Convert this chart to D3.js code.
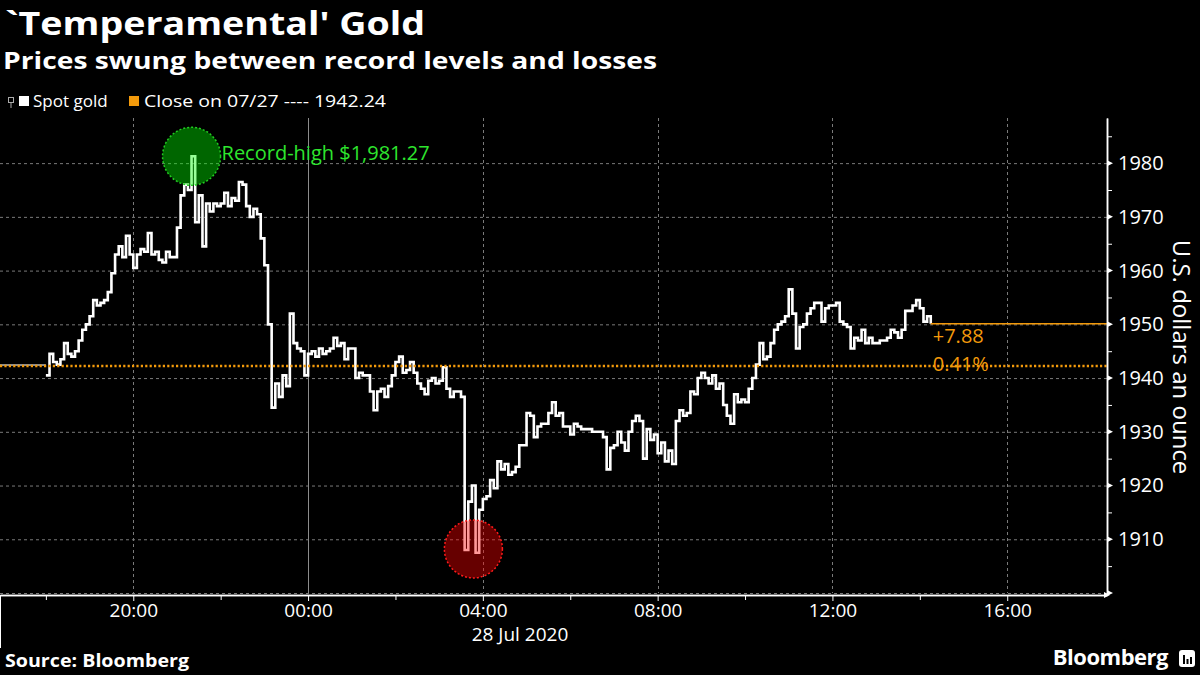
<!DOCTYPE html>
<html>
<head>
<meta charset="utf-8">
<script src="https://cdn.jsdelivr.net/npm/d3@7"></script>
<style>
  html, body { margin: 0; padding: 0; background: #000; }
  svg { display: block; }
</style>
</head>
<body>
<div id="chart"></div>
<script>
// spot gold, one price every 5 minutes from 27 Jul 18:00
const startTime = new Date(2020, 6, 27, 18, 0);
const stepMinutes = 5;
const spotGold = [
  1940.5, 1944.5, 1943, 1942.5, 1943.5, 1946.5, 1944.5, 1944, 1945, 1947, 1949, 1950,          // 18h
  1951.5, 1954.5, 1953.5, 1954, 1954.5, 1956, 1959.5, 1963, 1964.5, 1962.5, 1966.5, 1963,      // 19h
  1960.5, 1963, 1964, 1963.5, 1967, 1963, 1963.5, 1962, 1961.5, 1963.5, 1962.5, 1962.5,        // 20h
  1968, 1974, 1976, 1975, 1981.27, 1969, 1974, 1964.5, 1972.5, 1971, 1972.5, 1972,             // 21h
  1972.5, 1974.5, 1972, 1973.5, 1973, 1976.5, 1976, 1972, 1970, 1971.5, 1970.5, 1966,          // 22h
  1961, 1950, 1934.5, 1939, 1936.5, 1940.5, 1938.5, 1952, 1946.5, 1945.5, 1945, 1940.5,        // 23h
  1944.5, 1945, 1944, 1945.5, 1944.5, 1945, 1945.5, 1947.5, 1946, 1946.5, 1943.5, 1945.5,      // 00h
  1945.5, 1940, 1941, 1940.5, 1940.5, 1937.5, 1934, 1937.5, 1938, 1936.5, 1938.5, 1940.5,      // 01h
  1943, 1944, 1941, 1941.5, 1943, 1941, 1939, 1938, 1937, 1939.5, 1940, 1939,                  // 02h
  1939.5, 1942, 1938, 1936.5, 1937.5, 1937.5, 1936.5, 1908, 1917, 1920, 1907.5, 1915.5,        // 03h
  1917.5, 1918, 1921, 1919.5, 1924.5, 1923, 1924, 1922, 1922.5, 1923.5, 1927.5, 1927.5,        // 04h
  1933.5, 1933, 1929, 1931, 1931.5, 1931.5, 1933.5, 1935.5, 1933, 1933.5, 1931, 1931,          // 05h
  1929.5, 1931.5, 1931, 1930.5, 1930.5, 1930.5, 1930, 1930, 1930, 1929, 1923, 1927,            // 06h
  1927.5, 1930, 1928, 1926.5, 1930, 1932, 1933, 1932, 1925, 1930.5, 1928.5, 1929.5,            // 07h
  1926, 1928, 1924.5, 1926.5, 1924, 1932, 1934, 1933, 1933.5, 1937.5, 1937, 1940,              // 08h
  1941, 1940, 1939, 1940.5, 1938, 1939, 1935, 1933, 1931.5, 1937, 1935.5, 1936,                // 09h
  1935.5, 1938, 1940, 1942.5, 1946.5, 1943.5, 1944, 1946.5, 1949, 1950, 1950.5, 1951.5,        // 10h
  1956.5, 1952, 1945.5, 1949.5, 1950, 1952, 1953, 1954, 1954, 1950.5, 1953, 1953.5,            // 11h
  1953.5, 1954, 1950.5, 1950, 1949.5, 1945.5, 1947.5, 1947, 1949, 1946.5, 1947.5, 1946.5,      // 12h
  1946.5, 1947, 1947, 1947.5, 1949, 1948.5, 1947.5, 1949, 1952.5, 1952.5, 1953.5, 1954.5,      // 13h
  1953, 1950.5, 1951.5, 1950.12                                                                // 14h
];
const prevClose = 1942.24;
const lastPrice = 1950.12;
const changeLabels = ["+7.88", "0.41%"];
const highMark = [new Date(2020, 6, 27, 21, 20), 1981.27];
const lowMark = [new Date(2020, 6, 28, 3, 47), 1908.2];
const yTicks = [1910, 1920, 1930, 1940, 1950, 1960, 1970, 1980];
const yMinorTicks = [1905, 1915, 1925, 1935, 1945, 1955, 1965, 1975, 1985];
const yGrid = [1900, 1910, 1920, 1930, 1940, 1950, 1960, 1970, 1980];

const totalWidth = 1200, totalHeight = 675;
const plot = { left: 0, right: 1107, top: 118, bottom: 593 };
const orange = "#f39a0b";
const labelFont = "'Open Sans', 'Noto Sans', sans-serif";

const svg = d3.select("#chart")
  .append("svg")
  .attr("width", totalWidth)
  .attr("height", totalHeight)
  .style("background", "#000");

const x = d3.scaleTime()
  .domain([new Date(2020, 6, 27, 16, 57), new Date(2020, 6, 28, 18, 17)])
  .range([plot.left, plot.right]);

const y = d3.scaleLinear()
  .domain([1900, 1988.4])
  .range([plot.bottom, plot.top]);

const series = spotGold.map((p, i) => ({ t: d3.timeMinute.offset(startTime, i * stepMinutes), p: p }));

const majorHours = d3.timeHour.every(4).range(x.domain()[0], x.domain()[1]).filter(d => x(d) < plot.right - 20);
const minorHours = d3.timeHour.every(2).range(x.domain()[0], x.domain()[1])
  .filter(d => d.getHours() % 4 != 0 && x(d) < plot.right - 20);

// grid
svg.append("g")
  .selectAll("line")
  .data(yGrid)
  .enter()
  .append("line")
  .attr("x1", plot.left)
  .attr("x2", plot.right)
  .attr("y1", d => y(d) + 0.5)
  .attr("y2", d => y(d) + 0.5)
  .attr("stroke", "#7a7a7a")
  .attr("stroke-width", 1)
  .attr("stroke-dasharray", "3,3");

svg.append("g")
  .selectAll("line")
  .data(majorHours)
  .enter()
  .append("line")
  .attr("x1", d => Math.round(x(d)) + 0.5)
  .attr("x2", d => Math.round(x(d)) + 0.5)
  .attr("y1", plot.top)
  .attr("y2", plot.bottom)
  .attr("stroke", d => d.getHours() == 0 ? "#8c8c8c" : "#7a7a7a")
  .attr("stroke-width", 1)
  .attr("stroke-dasharray", d => d.getHours() == 0 ? null : "3,3");

// flat line before the open
svg.append("line")
  .attr("x1", plot.left)
  .attr("x2", x(startTime))
  .attr("y1", y(prevClose) - 1)
  .attr("y2", y(prevClose) - 1)
  .attr("stroke", "#bbbbbb")
  .attr("stroke-width", 1.5);

// price line
const line = d3.line()
  .x(d => x(d.t))
  .y(d => y(d.p))
  .curve(d3.curveStepAfter);

svg.append("path")
  .datum(series)
  .attr("fill", "none")
  .attr("stroke", "#fff")
  .attr("stroke-width", 2.6)
  .attr("d", line);

// previous close and last price
svg.append("line")
  .attr("x1", plot.left)
  .attr("x2", plot.right)
  .attr("y1", y(prevClose))
  .attr("y2", y(prevClose))
  .attr("stroke", orange)
  .attr("stroke-width", 2.4)
  .attr("stroke-dasharray", "2.2,2.2");

const lastPoint = series[series.length - 1];
svg.append("line")
  .attr("x1", x(lastPoint.t))
  .attr("x2", plot.right)
  .attr("y1", y(lastPrice))
  .attr("y2", y(lastPrice))
  .attr("stroke", orange)
  .attr("stroke-width", 1.5);

svg.selectAll(".chg")
  .data(changeLabels)
  .enter()
  .append("text")
  .attr("class", "chg")
  .attr("x", x(lastPoint.t) + 2)
  .attr("y", (d, i) => y(lastPrice) + 19 + i * 28)
  .attr("fill", orange)
  .attr("font-family", labelFont)
  .attr("font-size", "20px")
  .text(d => d);

// highlight circles
svg.append("circle")
  .attr("cx", x(highMark[0]))
  .attr("cy", y(highMark[1]))
  .attr("r", 29)
  .attr("fill", "#00ff00")
  .attr("fill-opacity", 0.4)
  .attr("stroke", "#22cc22")
  .attr("stroke-width", 1.5)
  .attr("stroke-dasharray", "2,2");

svg.append("text")
  .attr("x", x(highMark[0]) + 30)
  .attr("y", y(highMark[1]) + 4)
  .attr("fill", "#2ee62e")
  .attr("font-family", labelFont)
  .attr("font-size", "20px")
  .text("Record-high $1,981.27");

svg.append("circle")
  .attr("cx", x(lowMark[0]))
  .attr("cy", y(lowMark[1]))
  .attr("r", 29)
  .attr("fill", "#ff0000")
  .attr("fill-opacity", 0.4)
  .attr("stroke", "#ff1a1a")
  .attr("stroke-width", 1.5)
  .attr("stroke-dasharray", "2,2");

// x axis
const xAxis = svg.append("g")
  .attr("transform", `translate(0, ${plot.bottom + 2})`)
  .call(d3.axisBottom(x).tickValues(majorHours).tickFormat(d3.timeFormat("%H:%M")).tickSize(6).tickSizeOuter(0).tickPadding(3));
svg.append("g")
  .attr("transform", `translate(0, ${plot.bottom + 2})`)
  .call(d3.axisBottom(x).tickValues(minorHours).tickFormat("").tickSize(5).tickSizeOuter(0));

svg.append("line")
  .attr("x1", 0.5).attr("x2", 0.5)
  .attr("y1", plot.bottom + 2).attr("y2", 648)
  .attr("stroke", "#fff");

svg.append("path")
  .attr("d", `M${plot.right - 3},${plot.bottom - 1}L${plot.right + 3},${plot.bottom + 2}L${plot.right - 3},${plot.bottom + 5}Z`)
  .attr("fill", "#fff");

svg.append("text")
  .attr("x", 520)
  .attr("y", 641)
  .attr("text-anchor", "middle")
  .attr("fill", "#fff")
  .attr("font-family", labelFont)
  .attr("font-size", "19px")
  .text("28 Jul 2020");

// y axis
const yAxis = svg.append("g")
  .attr("transform", `translate(${plot.right}, 0)`)
  .call(d3.axisRight(y).tickValues(yTicks).tickFormat(d3.format("d")).tickSize(0).tickSizeOuter(0).tickPadding(11));
svg.append("g")
  .attr("transform", `translate(${plot.right}, 0)`)
  .call(d3.axisRight(y).tickValues(yMinorTicks).tickFormat("").tickSize(5).tickSizeOuter(0));

svg.append("g")
  .selectAll("path")
  .data([1900].concat(yTicks))
  .enter()
  .append("path")
  .attr("d", d => `M${plot.right},${y(d) - 3}L${plot.right + 6},${y(d)}L${plot.right},${y(d) + 3}Z`)
  .attr("fill", "#fff");

svg.selectAll(".domain")
  .attr("stroke", "#fff")
  .attr("stroke-width", 1.5);
svg.selectAll(".tick line")
  .attr("stroke", "#fff");
svg.selectAll(".tick text")
  .attr("fill", "#fff")
  .attr("font-family", labelFont)
  .attr("font-size", "19px");
yAxis.selectAll(".tick text")
  .attr("font-size", "20px");

svg.append("text")
  .attr("transform", `translate(1181, 357) rotate(90)`)
  .attr("text-anchor", "middle")
  .attr("dy", "0.35em")
  .attr("fill", "#fff")
  .attr("font-family", labelFont)
  .attr("font-size", "24px")
  .text("U.S. dollars an ounce");

// titles
svg.append("text")
  .attr("x", 5)
  .attr("y", 34.5)
  .attr("fill", "#fff")
  .attr("font-family", labelFont)
  .attr("font-weight", "bold")
  .attr("font-size", "33px")
  .attr("textLength", 420)
  .attr("lengthAdjust", "spacingAndGlyphs")
  .text("`Temperamental' Gold");

svg.append("text")
  .attr("x", 3)
  .attr("y", 69)
  .attr("fill", "#fff")
  .attr("font-family", labelFont)
  .attr("font-weight", "bold")
  .attr("font-size", "23px")
  .attr("textLength", 654)
  .attr("lengthAdjust", "spacingAndGlyphs")
  .text("Prices swung between record levels and losses");

// legend
svg.append("rect").attr("x", 8.5).attr("y", 97.5).attr("width", 5).attr("height", 5)
  .attr("fill", "none").attr("stroke", "#aaa");
svg.append("line").attr("x1", 11).attr("x2", 11).attr("y1", 103).attr("y2", 108).attr("stroke", "#aaa");
svg.append("rect").attr("x", 19).attr("y", 96).attr("width", 10).attr("height", 10).attr("fill", "#fff");
svg.append("text").attr("x", 33).attr("y", 107).attr("fill", "#fff")
  .attr("font-family", labelFont).attr("font-size", "17px").text("Spot gold");
svg.append("rect").attr("x", 129).attr("y", 96).attr("width", 10).attr("height", 10).attr("fill", orange);
svg.append("text").attr("x", 144).attr("y", 107).attr("fill", "#fff")
  .attr("font-family", labelFont).attr("font-size", "17px")
  .attr("textLength", 242).attr("lengthAdjust", "spacingAndGlyphs")
  .text("Close on 07/27 ---- 1942.24");

// footer
svg.append("text")
  .attr("x", 5)
  .attr("y", 667)
  .attr("fill", "#fff")
  .attr("font-family", labelFont)
  .attr("font-weight", "bold")
  .attr("font-size", "17px")
  .attr("textLength", 184)
  .attr("lengthAdjust", "spacingAndGlyphs")
  .text("Source: Bloomberg");

svg.append("text")
  .attr("x", 1168)
  .attr("y", 665)
  .attr("text-anchor", "end")
  .attr("fill", "#fff")
  .attr("font-family", labelFont)
  .attr("font-weight", "bold")
  .attr("font-size", "22px")
  .attr("letter-spacing", "-0.5px")
  .text("Bloomberg");

const logo = svg.append("g").attr("transform", "translate(1179, 650)");
logo.append("rect").attr("width", 16).attr("height", 17).attr("rx", 3).attr("fill", "#fff");
logo.selectAll(".bar")
  .data([[4, 9], [7.5, 5], [11, 7]])
  .enter()
  .append("rect")
  .attr("x", d => d[0])
  .attr("y", d => 14 - d[1])
  .attr("width", 2)
  .attr("height", d => d[1])
  .attr("fill", "#000");
</script>
</body>
</html>
